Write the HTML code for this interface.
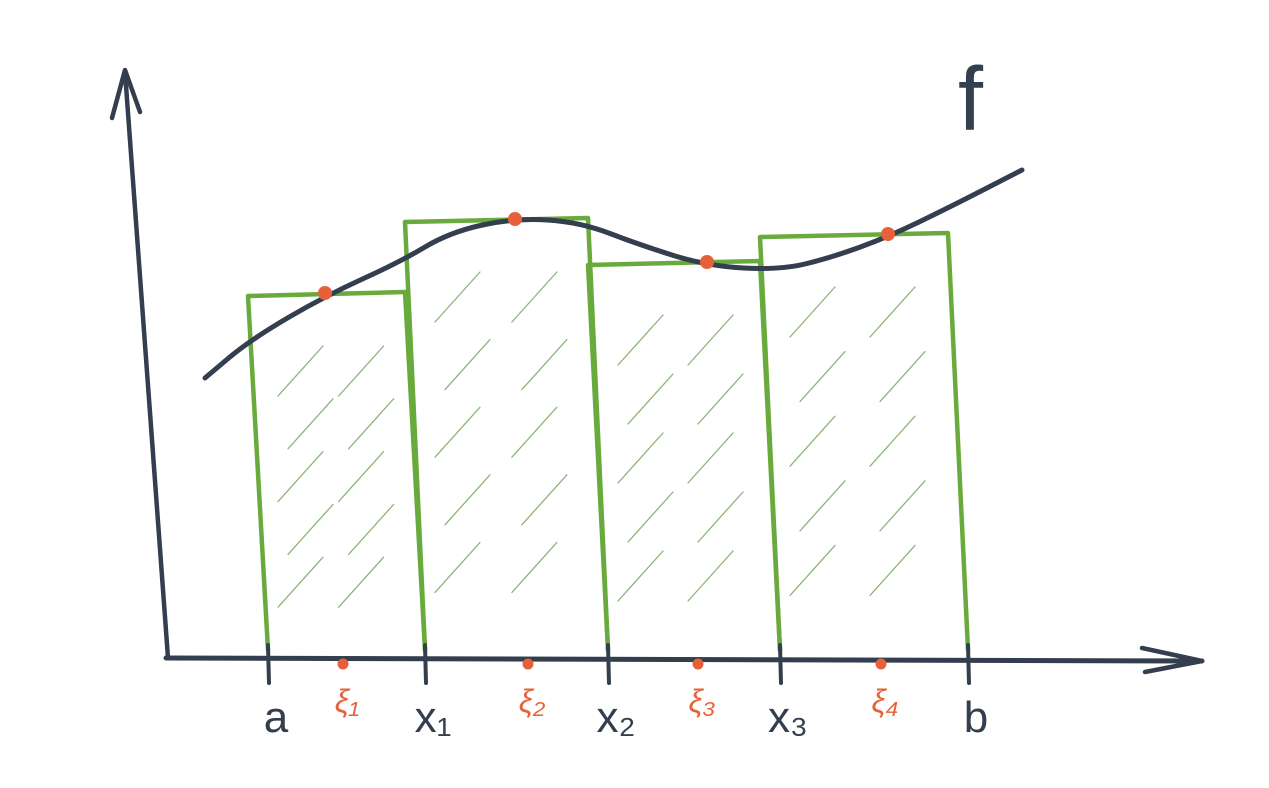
<!DOCTYPE html>
<html><head><meta charset="utf-8"><style>
html,body{margin:0;padding:0;background:#fff;}
svg{display:block;}
text{font-family:"Liberation Sans",sans-serif;}
</style></head><body>
<svg id="chart" width="1269" height="788" viewBox="0 0 1269 788" xmlns="http://www.w3.org/2000/svg">
<g id="hatch"></g>
<g id="rects"></g>
<path id="curve" fill="none" stroke="#333e4e" stroke-width="5" stroke-linecap="round"/>
<line x1="168" y1="658" x2="125" y2="72" stroke="#333e4e" stroke-width="4.5" stroke-linecap="round"/>
<polyline points="112,118 125,70 140,112" fill="none" stroke="#333e4e" stroke-width="4.5" stroke-linecap="round" stroke-linejoin="round"/>
<path d="M166,658 L1202,661" stroke="#333e4e" stroke-width="5" stroke-linecap="round"/>
<polyline points="1142,648 1202,661 1145,672" fill="none" stroke="#333e4e" stroke-width="4.5" stroke-linecap="round" stroke-linejoin="round"/>
<g id="ticks"></g>
<g id="pts"></g>
<text x="958" y="130" font-size="90" fill="#333e4e" font-family="Liberation Serif, serif">f</text>
</svg>
<script>
const partitions=[0.98,2.55,4.38,6.1,7.98];
const partitionLabels=["a","x₁","x₂","x₃","b"];
const heights=[3.64,4.38,3.95,4.23];
const samples=[1.73,3.58,5.28,7.11];
const samplesTop=[1.55,3.45,5.37,7.18];
const sampleLabels=["ξ₁","ξ₂","ξ₃","ξ₄"];
const curveX=[0.35,0.8,1.55,2.3,2.8,3.45,4.1,4.7,5.37,6.1,6.6,7.18,7.8,8.52];
const curveY=[2.82,3.2,3.64,3.98,4.28,4.42,4.38,4.15,3.94,3.9,4.02,4.23,4.53,4.9];
const xs=v=>170+v*100, ys=v=>660-v*100;
const NS="http://www.w3.org/2000/svg";
function mk(tag,parent,attrs){const e=document.createElementNS(NS,tag);for(const k in attrs)e.setAttribute(k,attrs[k]);document.getElementById(parent).appendChild(e);return e;}
let d="";for(let i=0;i<curveX.length;i++){const x=xs(curveX[i]),y=ys(curveY[i]);if(i===0)d="M"+x+","+y;else{const px=xs(curveX[i-1]),py=ys(curveY[i-1]);const mx=(px+x)/2,my=(py+y)/2;d+=" Q"+px+","+py+" "+mx+","+my;}}
d+=" L"+xs(curveX[curveX.length-1])+","+ys(curveY[curveY.length-1]);
document.getElementById('curve').setAttribute('d',d);
const lean=20;
for(let i=0;i<heights.length;i++){
 const x0=xs(partitions[i]),x1=xs(partitions[i+1]),yt=ys(heights[i]),yb=ys(0)-10;
 const r=mk('path','rects',{d:`M${x0},${yb} L${x0-lean},${yt} L${x1-lean},${yt-4} L${x1},${yb}`,fill:'none',stroke:'#68aa3c','stroke-width':4.5,'stroke-linecap':'round','stroke-linejoin':'round'});
 
 
 const w=x1-x0;
 for(let k=0;k<5;k++){
  const cy=yt+50+k*(yb-yt-90)/5;
  for(let j=0;j<2;j++){
   const cx=x0+10+j*(w-60)/1.6+(k%2)*10;
   const h=mk('line','hatch',{x1:cx,y1:cy+50,x2:cx+45,y2:cy,stroke:'#8ab57a','stroke-width':1.3,'stroke-linecap':'round'});
   
   
  }
 }
}
for(let i=0;i<partitions.length;i++){
 const x=xs(partitions[i]);
 const t=mk('line','ticks',{x1:x,y1:645,x2:x+1,y2:683,stroke:'#333e4e','stroke-width':4,'stroke-linecap':'round'});
 
 
 const l=mk('text','ticks',{x:x+8,y:732,'font-size':44,'text-anchor':'middle',fill:'#333e4e'});
 l.textContent=partitionLabels[i];
 
 
}
for(let i=0;i<samples.length;i++){
 const x=xs(samples[i]);
 const p=mk('circle','pts',{cx:x,cy:664,r:5.5,fill:'#e8603a'});
 
 
 const q=mk('circle','pts',{cx:xs(samplesTop[i]),cy:ys(heights[i])-3,r:7,fill:'#e8603a'});
 
 
 const l=mk('text','pts',{x:x+4,y:712,'font-size':32,'font-style':'italic','text-anchor':'middle',fill:'#e8603a'});
 l.textContent=sampleLabels[i];
 
 
}
</script>
</body></html>
